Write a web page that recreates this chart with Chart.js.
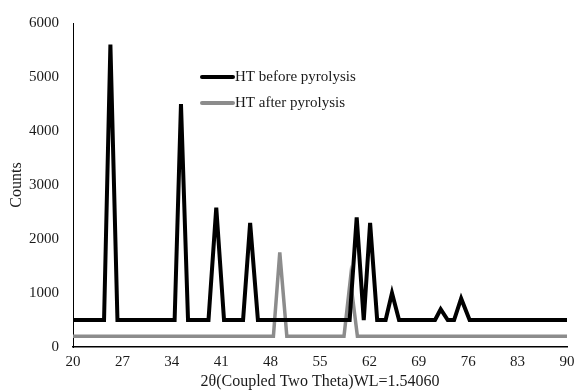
<!DOCTYPE html>
<html>
<head>
<meta charset="utf-8">
<script src="https://cdn.jsdelivr.net/npm/chart.js@4/dist/chart.umd.min.js"></script>
<style>
  html, body { margin: 0; padding: 0; background: #fff; }
  #wrap { width: 577px; height: 391px; }
</style>
</head>
<body>
<div id="wrap"><canvas id="xrdChart"></canvas></div>
<script>
// 2-theta positions and counts
const beforeX = [20, 24.4, 25.3, 26.3, 34.4, 35.3, 36.3, 39.2, 40.3, 41.4, 44.1, 45.1, 46.2,
                 59.2, 60.2, 61.2, 62.1, 63.1, 64.3, 65.2, 66.2, 71.3, 72.1, 73.1, 74.0, 75.0, 76.2, 90];
const beforeY = [500, 500, 5600, 500, 500, 4500, 500, 500, 2580, 500, 500, 2300, 500,
                 500, 2400, 500, 2300, 500, 500, 1000, 500, 500, 700, 500, 500, 900, 500, 500];
const afterX = [20, 48.4, 49.3, 50.3, 58.4, 59.3, 60.3, 90];
const afterY = [200, 200, 1750, 200, 200, 1250, 200, 200];

const seriesLabels = ['HT before pyrolysis', 'HT after pyrolysis'];
const xTicks = [20, 27, 34, 41, 48, 55, 62, 69, 76, 83, 90];
const yTicks = [0, 1000, 2000, 3000, 4000, 5000, 6000];

const toPoints = (xs, ys) => xs.map((x, i) => ({ x: x, y: ys[i] }));
const serif = 'Liberation Serif';

// legend drawn inside the plot, like the original
const innerLegend = {
  id: 'innerLegend',
  afterDraw(chart) {
    const c = chart.ctx;
    const a = chart.chartArea;
    chart.data.datasets.forEach((ds, i) => {
      const y = a.top + 54 + i * 26;
      const x0 = a.left + 129;
      c.save();
      c.strokeStyle = ds.borderColor;
      c.lineWidth = 4;
      c.lineCap = 'round';
      c.beginPath();
      c.moveTo(x0, y);
      c.lineTo(x0 + 31, y);
      c.stroke();
      c.fillStyle = '#1a1a1a';
      c.font = '15px ' + serif;
      c.textBaseline = 'middle';
      c.fillText(ds.label, x0 + 33, y);
      c.restore();
    });
  }
};

new Chart(document.getElementById('xrdChart').getContext('2d'), {
  type: 'line',
  data: {
    datasets: [{
      label: seriesLabels[0],
      data: toPoints(beforeX, beforeY),
      borderColor: '#000000',
      borderWidth: 4,
      pointRadius: 0,
      tension: 0,
      borderJoinStyle: 'miter'
    }, {
      label: seriesLabels[1],
      data: toPoints(afterX, afterY),
      borderColor: '#8c8c8c',
      borderWidth: 3.5,
      pointRadius: 0,
      tension: 0,
      borderJoinStyle: 'miter'
    }]
  },
  options: {
    responsive: true,
    maintainAspectRatio: false,
    animation: false,
    layout: { padding: { top: 20, right: 10, left: 0, bottom: 0 } },
    plugins: {
      legend: { display: false },
      tooltip: { enabled: false }
    },
    scales: {
      x: {
        type: 'linear',
        min: 20,
        max: 90,
        afterBuildTicks: s => { s.ticks = xTicks.map(v => ({ value: v })); },
        afterFit: s => { s.height = 44; s.paddingLeft = 0; s.paddingRight = 0; },
        grid: { display: false, drawTicks: false },
        border: { color: '#000', width: 1.5 },
        ticks: {
          color: '#1a1a1a', font: { family: serif, size: 15 }, padding: 6, maxRotation: 0,
          callback: v => String(v)
        },
        title: {
          display: true,
          text: '2θ(Coupled Two Theta)WL=1.54060',
          color: '#1a1a1a',
          font: { family: serif, size: 16 },
          padding: { top: 0, bottom: 0 }
        }
      },
      y: {
        min: 0,
        max: 6000,
        afterBuildTicks: s => { s.ticks = yTicks.map(v => ({ value: v })); },
        afterFit: s => { s.width = 73; },
        grid: { display: false, drawTicks: false },
        border: { color: '#000', width: 1 },
        ticks: {
          color: '#1a1a1a', font: { family: serif, size: 15 }, padding: 14,
          callback: v => String(v)
        },
        title: {
          display: true,
          text: 'Counts',
          color: '#1a1a1a',
          font: { family: serif, size: 16 },
          padding: { top: 7, bottom: 0 }
        }
      }
    }
  },
  plugins: [innerLegend]
});
</script>
</body>
</html>
